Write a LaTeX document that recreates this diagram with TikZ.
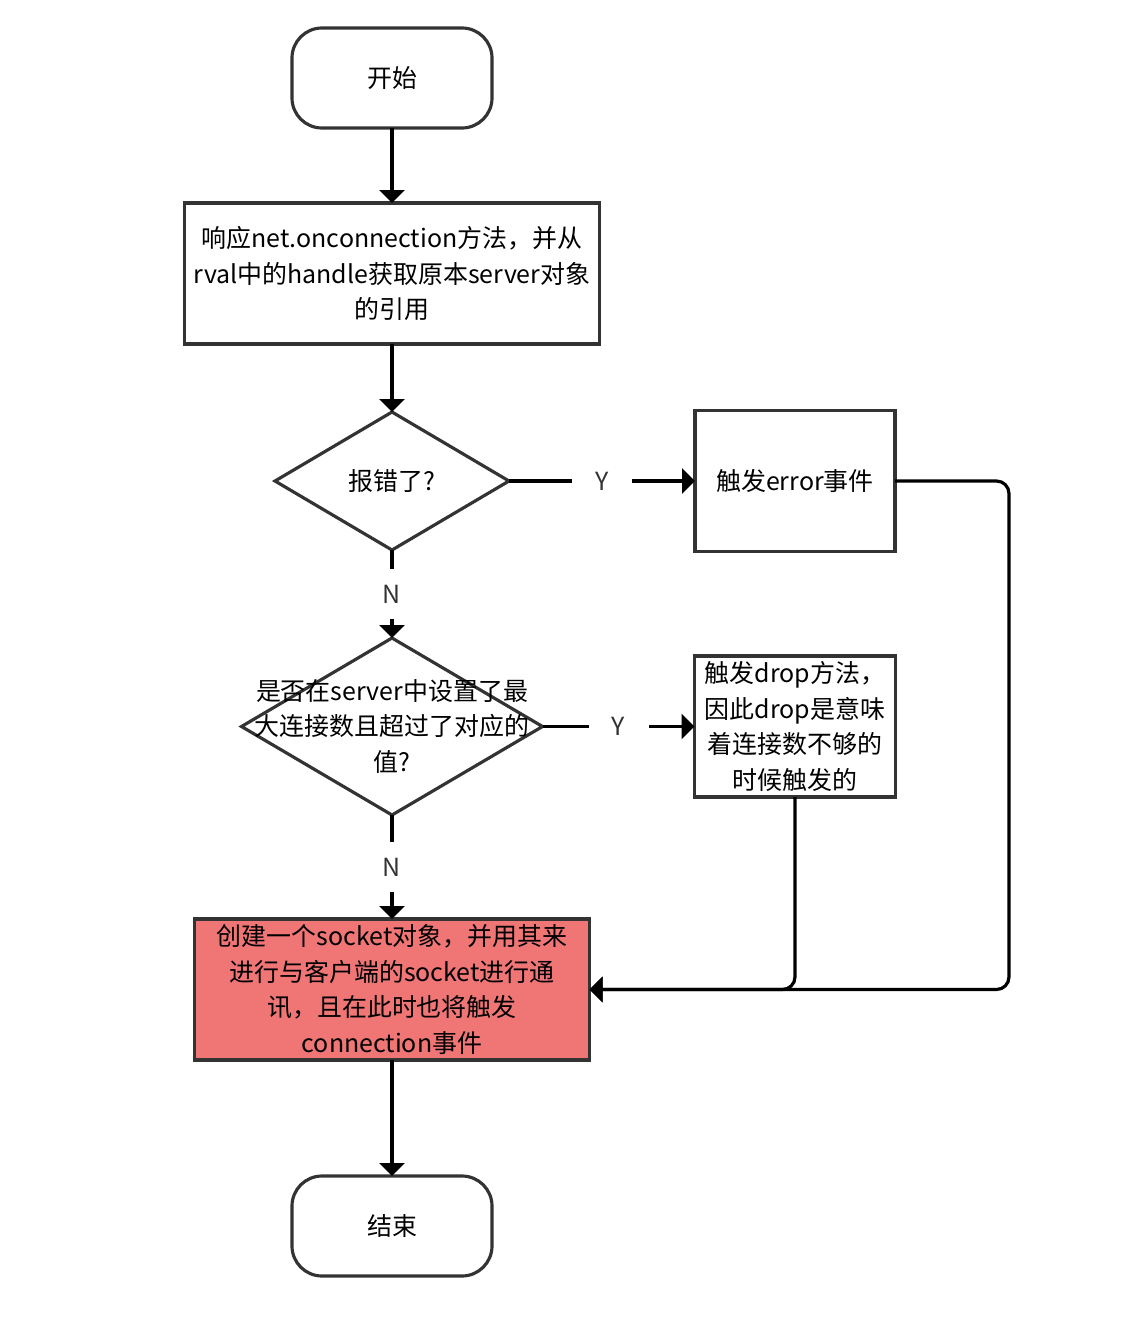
\documentclass[tikz,border=0pt]{standalone}
\usepackage{fontspec}
\setmainfont{Noto Sans CJK SC}
\usepackage{xcolor}
\usepackage{tikz}
\usetikzlibrary{calc, positioning, arrows.meta, shapes.geometric}
\definecolor{edge}{HTML}{333333}
\definecolor{alarm}{HTML}{F07575}
\tikzset{
    term/.style={rectangle, draw=edge, line width=1.8pt, outer sep=0pt, fill=white, rounded corners=0.6cm, minimum width=4cm, minimum height=2cm, align=center},
    proc/.style={rectangle, draw=edge, line width=1.8pt, outer sep=0pt, fill=white, align=center, inner sep=2pt},
    decision/.style={diamond, draw=edge, line width=1.8pt, outer sep=0pt, fill=white, inner sep=0pt, align=center},
    yn/.style={fill=white, text=edge, minimum width=1.2cm, minimum height=1cm, inner sep=0pt},
    line/.style={-{Triangle[length=0.26cm, width=0.5cm]}, line width=1.8pt}
}

\begin{document}
\begin{tikzpicture}[
        node distance=1.5cm,
        font=\fontsize{14.2pt}{20.4pt}\selectfont
    ]
    \useasboundingbox (0,0) rectangle (22.76,-26.52);

    % Start
    \node[term] (Start) at (7.84,-1.56) {开始};

    % Reply to onconnection
    \node[proc, below=1.5cm of Start, minimum width=8.3cm, minimum height=2.82cm] (Reply) {响应net.onconnection方法，并从\\rval中的handle获取原本server对象\\的引用};
    \draw[line] (Start) -- (Reply);

    % Error check
    \node[decision, below=1.36cm of Reply, minimum width=4.68cm, minimum height=2.76cm] (ErrChk) {报错了?};
    \draw[line] (Reply) -- (ErrChk);

    \node[proc, right=3.72cm of ErrChk, minimum width=4cm, minimum height=2.82cm] (ErrEvt) {触发error事件};
    \draw[line] (ErrChk) -- node[yn] (ErrY) {Y} (ErrEvt);

    % Max connections check
    \node[decision, below=1.76cm of ErrChk, minimum width=6.02cm, minimum height=3.54cm] (MaxChk) {};
    \node[align=center] (MaxTxt) at (MaxChk) {是否在server中设置了最\\大连接数且超过了对应的\\值?};
    \draw[line] (ErrChk) -- node[yn] (ErrN) {N} (MaxChk);

    \node[proc, right=3.04cm of MaxChk, minimum width=4.02cm, minimum height=2.82cm] (Drop) {触发drop方法，\\因此drop是意味\\着连接数不够的\\时候触发的};
    \draw[line] (MaxChk) -- node[yn] (MaxY) {Y} (Drop);

    % Socket creation
    \node[proc, fill=alarm, below=2.08cm of MaxChk, minimum width=7.9cm, minimum height=2.82cm] (Socket) {创建一个socket对象，并用其来\\进行与客户端的socket进行通\\讯，且在此时也将触发\\connection事件};
    \draw[line] (MaxChk) -- node[yn] (MaxN) {N} (Socket);

    % Back lines into the socket box
    \draw[line, rounded corners=0.25cm] (ErrEvt.east) -- ++(2.28,0) |- (Socket.east);
    \draw[line, rounded corners=0.25cm] (Drop.south) |- (Socket.east);

    % End
    \node[term, below=2.32cm of Socket] (End) {结束};
    \draw[line] (Socket) -- (End);

\end{tikzpicture}
\end{document}
